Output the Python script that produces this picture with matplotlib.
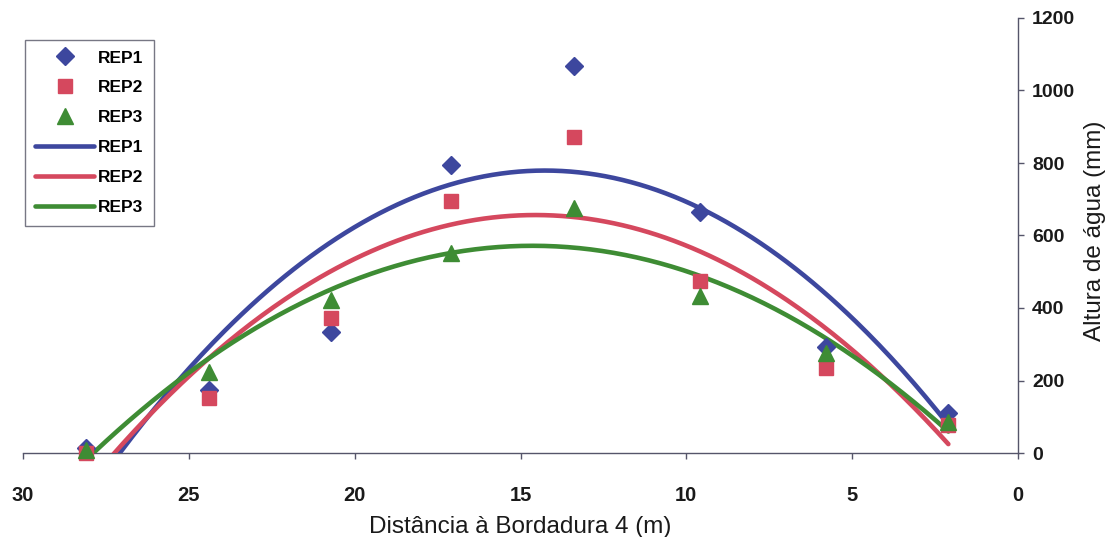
import numpy as np
import matplotlib
matplotlib.use("Agg")
import matplotlib.pyplot as plt

plt.rcParams['font.family'] = ['Liberation Sans', 'DejaVu Sans']

# Distance from border 4 (m) at each collector
distancia = [28.1, 24.4, 20.7, 17.1, 13.4, 9.6, 5.8, 2.1]

# Water depth (mm) per replicate
rep1 = [15, 175, 335, 795, 1067, 666, 292, 111]
rep2 = [0, 153, 373, 694, 872, 474, 234, 78]
rep3 = [8, 223, 423, 552, 677, 432, 276, 86]

series_names = ['REP1', 'REP2', 'REP3']
colors = ['#3D479E', '#D5485E', '#3E8C34']
markers = ['D', 's', '^']
marker_sizes = [9, 10.5, 11]

x_ticks = [30, 25, 20, 15, 10, 5, 0]
y_ticks = [0, 200, 400, 600, 800, 1000, 1200]

W, H = 1110, 537
fig = plt.figure(figsize=(W / 100, H / 100), dpi=100)
ax = fig.add_axes([23 / W, 1 - 453 / H, (1018 - 23) / W, (453 - 18) / H])

x = np.array(distancia, dtype=float)
values = [rep1, rep2, rep3]

point_handles = []
for name, ys, c, m, ms in zip(series_names, values, colors, markers, marker_sizes):
    h, = ax.plot(x, ys, linestyle='none', marker=m, markersize=ms,
                 color=c, markeredgecolor=c, zorder=4, label=name,
                 clip_on=False)
    point_handles.append(h)

# Second-order polynomial trendline for each replicate
line_handles = []
xs = np.linspace(x.min(), x.max(), 300)
for name, ys, c in zip(series_names, values, colors):
    coef = np.polyfit(x, np.array(ys, dtype=float), 2)
    h, = ax.plot(xs, np.polyval(coef, xs), color=c, linewidth=3.3,
                 solid_capstyle='round', zorder=3, label=name)
    line_handles.append(h)

ax.set_xlim(30, 0)
ax.set_ylim(0, 1200)
ax.set_xticks(x_ticks)
ax.set_yticks(y_ticks)

axis_color = '#55556a'
for side in ['top', 'left']:
    ax.spines[side].set_visible(False)
for side in ['bottom', 'right']:
    ax.spines[side].set_color(axis_color)
    ax.spines[side].set_linewidth(1.0)

ax.yaxis.tick_right()
ax.yaxis.set_label_position('right')
ax.tick_params(axis='x', direction='out', length=4, width=1, color=axis_color,
               pad=20, labelsize=14.5)
ax.tick_params(axis='y', direction='out', length=4, width=1, color=axis_color,
               pad=6, labelsize=14)
for lab in ax.get_xticklabels() + ax.get_yticklabels():
    lab.set_fontweight('bold')
    lab.set_color('#1a1a1a')

ax.set_xlabel('Distância à Bordadura 4 (m)', fontsize=17.5, color='#1a1a1a')
ax.set_ylabel('Altura de água (mm)', fontsize=17.5, color='#1a1a1a')
ax.xaxis.set_label_coords(0.5, -0.145)
ax.yaxis.set_label_coords(1.066, 0.51)

leg = ax.legend(point_handles + line_handles,
                series_names + series_names,
                loc='upper left', bbox_to_anchor=(25 / W, 1 - 40 / H),
                bbox_transform=fig.transFigure, borderaxespad=0,
                frameon=True, fancybox=False, edgecolor='#555566',
                prop={'weight': 'bold', 'size': 12.5},
                handlelength=3.4, handletextpad=0.2, labelspacing=0.85,
                borderpad=0.6)
leg.get_frame().set_linewidth(1.0)

fig.savefig('out.png', dpi=100, facecolor='white')
